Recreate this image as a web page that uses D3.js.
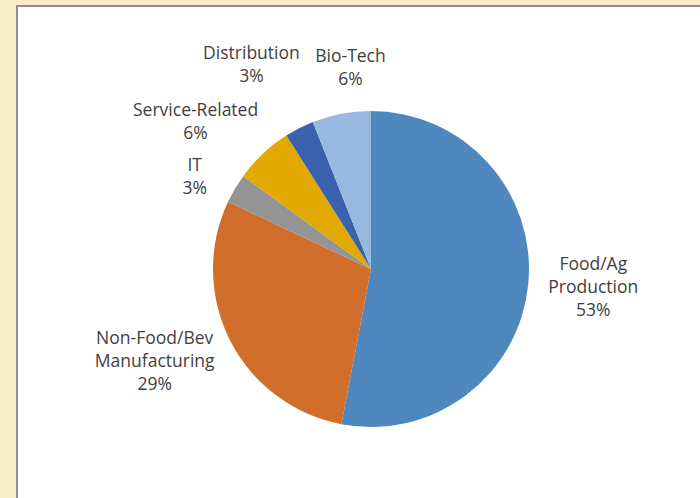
<!DOCTYPE html>
<html>
<head>
<meta charset="utf-8">
<script src="https://cdn.jsdelivr.net/npm/d3@7"></script>
<style>
  body { margin: 0; background: #f7edcb; }
  svg { display: block; }
  .slice-label { font-family: "Open Sans", sans-serif; font-size: 17.5px; fill: #3f3f3f; }
</style>
</head>
<body>
<svg width="700" height="498"></svg>
<script>
const categories = ['Food/Ag Production', 'Non-Food/Bev Manufacturing', 'IT', 'Service-Related', 'Distribution', 'Bio-Tech'];
const shares = [53, 29, 3, 6, 3, 6];
const labelLines = [
    ['Food/Ag', 'Production', '53%'],
    ['Non-Food/Bev', 'Manufacturing', '29%'],
    ['IT', '3%'],
    ['Service-Related', '6%'],
    ['Distribution', '3%'],
    ['Bio-Tech', '6%']
];
const colors = ['#4f88be', '#d16e2b', '#949494', '#e2aa00', '#3a62ac', '#97b8e0'];

// where each label sits, measured from the pie centre (radius, angle nudge in degrees)
const labelRadius = [223, 235, 199, 229, 237, 203];
const labelNudge = [-0.8, 4, -3, -6.8, -3.3, 5];

const center = { x: 371, y: 269 };
const radius = 158;
const lineHeight = 23;

const svg = d3.select('svg');

// white chart panel with the grey edge on the left and top
svg.append('rect')
    .attr('x', 17)
    .attr('y', 6)
    .attr('width', 700)
    .attr('height', 500)
    .attr('fill', '#fff')
    .attr('stroke', '#8e8e8e')
    .attr('stroke-width', 2);

const data = categories.map((c, i) => ({ name: c, value: shares[i], i }));

const pie = d3.pie()
    .value(d => d.value)
    .sort(null);

const arc = d3.arc()
    .innerRadius(0)
    .outerRadius(radius);

const g = svg.append('g')
    .attr('transform', `translate(${center.x},${center.y})`);

const arcs = pie(data);

g.selectAll('path')
    .data(arcs)
    .join('path')
    .attr('d', arc)
    .attr('fill', d => colors[d.data.i]);

const labels = g.selectAll('text')
    .data(arcs)
    .join('text')
    .attr('class', 'slice-label')
    .attr('text-anchor', 'middle')
    .attr('transform', d => {
        const a = (d.startAngle + d.endAngle) / 2 + labelNudge[d.data.i] * Math.PI / 180;
        const r = labelRadius[d.data.i];
        return `translate(${Math.sin(a) * r},${-Math.cos(a) * r})`;
    });

labels.each(function(d) {
    const lines = labelLines[d.data.i];
    const top = -(lines.length - 1) * lineHeight / 2;
    d3.select(this).selectAll('tspan')
        .data(lines)
        .join('tspan')
        .attr('x', 0)
        .attr('y', (l, k) => top + k * lineHeight)
        .attr('dy', '0.35em')
        .text(l => l);
});
</script>
</body>
</html>
